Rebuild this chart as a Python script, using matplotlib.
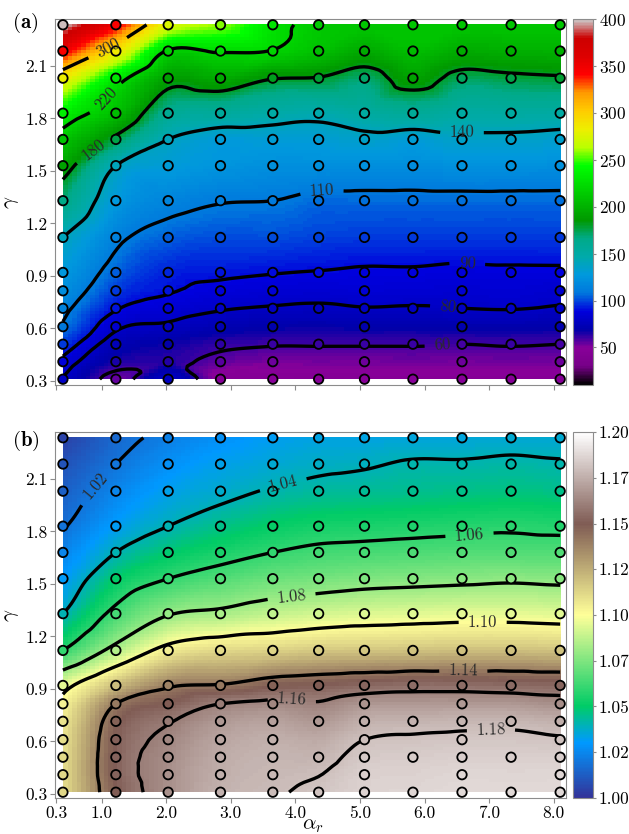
import numpy as np
import matplotlib
matplotlib.use("Agg")
import matplotlib.pyplot as plt
import matplotlib.tri as mtri

plt.rcParams["font.family"] = "serif"
plt.rcParams["font.serif"] = ["cmr10"]
plt.rcParams["mathtext.fontset"] = "cm"
plt.rcParams["axes.formatter.use_mathtext"] = True

nan = np.nan

# sample positions (circles)
alpha_r = [0.4, 1.22, 2.03, 2.84, 3.65, 4.36, 5.07, 5.82, 6.58, 7.34, 8.1]
gamma = [0.31, 0.41, 0.51, 0.61, 0.715, 0.815, 0.92, 1.12, 1.33, 1.53, 1.68, 1.83, 2.03, 2.185, 2.335]

# panel (a) values, rows bottom -> top, one column per alpha_r
values_a = [
    [79, 55, 78, 47, 47, 46, 47, 47, 47, 47, 47],
    [87, 66, 64, 56, 53, nan, 53, nan, 53, nan, 53],
    [97, 74, 68, 63, 61, 61, 61, 61, 60, 61, 60],
    [108, 82, 78, 73, 70, nan, 70, nan, 71, nan, 70],
    [114, 91, 85, 81, 79, 78, 79.5, 79, 80, 80.5, 79],
    [121, 98, 91, 87, 85, nan, 85, nan, 84, nan, 83],
    [127, 104, 94, 92, 90.5, 89.5, 88.5, 88.5, 87.5, 88, 88],
    [140, 114, 104, 101, 101, 99, 98, 98, 98, 98, 98],
    [166, 127, 116, 111, 110, 106, 106, 106, 106, 106, 106],
    [191, 140, 130, 125, 122, 122, 122, 121, 123, 123, 122],
    [210, 175, 140, 130, 131, 131, 135, 131, 136, 136, 134],
    [235, 205, 160, 155, 149, 146, 152, 157, 151, 152, 151],
    [282, 230, 190, 195, 181, 179, 170, 190, 173, 176, 178],
    [345, 285, 218, 222, 219, 208, 195, 206, 196, 198, 199],
    [398, 345, 275, 258, 228, 214, 212, 212, 212, 212, 212],
]

# panel (b) values
values_b = [
    [1.112, 1.150, 1.166, 1.176, 1.179, 1.182, 1.186, 1.187, 1.188, 1.188, 1.188],
    [1.112, 1.152, 1.166, 1.175, 1.178, nan, 1.185, nan, 1.187, nan, 1.187],
    [1.111, 1.152, 1.165, 1.174, 1.177, 1.177, 1.183, 1.184, 1.185, 1.185, 1.185],
    [1.110, 1.151, 1.163, 1.172, 1.175, nan, 1.180, nan, 1.182, nan, 1.181],
    [1.108, 1.148, 1.159, 1.168, 1.171, 1.168, 1.175, 1.176, 1.177, 1.177, 1.175],
    [1.104, 1.140, 1.150, 1.160, 1.163, nan, 1.167, nan, 1.168, nan, 1.165],
    [1.095, 1.120, 1.138, 1.141, 1.148, 1.150, 1.153, 1.155, 1.155, 1.154, 1.153],
    [1.060, 1.085, 1.105, 1.111, 1.113, 1.116, 1.117, 1.118, 1.119, 1.119, 1.118],
    [1.040, 1.064, 1.079, 1.083, 1.088, 1.091, 1.093, 1.094, 1.095, 1.095, 1.094],
    [1.031, 1.050, 1.060, 1.066, 1.071, 1.073, 1.075, 1.076, 1.077, 1.078, 1.077],
    [1.025, 1.040, 1.049, 1.055, 1.060, 1.063, 1.064, 1.065, 1.066, 1.066, 1.066],
    [1.019, 1.032, 1.040, 1.046, 1.051, 1.054, 1.055, 1.056, 1.057, 1.058, 1.057],
    [1.014, 1.025, 1.033, 1.037, 1.041, 1.043, 1.044, 1.045, 1.046, 1.047, 1.046],
    [1.010, 1.020, 1.028, 1.033, 1.036, 1.038, 1.039, 1.041, 1.041, 1.042, 1.041],
    [1.005, 1.016, 1.023, 1.028, 1.032, 1.034, 1.034, 1.035, 1.035, 1.036, 1.036],
]

levels_a = [60, 80, 90, 110, 140, 180, 220, 300]
levels_b = [1.02, 1.04, 1.06, 1.08, 1.10, 1.14, 1.16, 1.18]

label_pos_a = [(6.28, 0.49), (6.36, 0.72), (6.66, 0.95), (4.41, 1.38),
               (6.58, 1.72), (0.84, 1.64), (1.05, 1.92), (1.1, 2.2)]
label_pos_b = [(0.94, 2.05), (3.81, 2.07), (6.7, 1.76), (3.94, 1.43),
               (6.9, 1.28), (6.6, 0.99), (3.94, 0.81), (7.04, 0.59)]

cbar_ticks_a = [50, 100, 150, 200, 250, 300, 350, 400]
cbar_ticks_b = [1.0, 1.025, 1.05, 1.075, 1.1, 1.125, 1.15, 1.175, 1.2]
cbar_labels_b = ["1.00", "1.02", "1.05", "1.07", "1.10", "1.12", "1.15", "1.17", "1.20"]

x_ticks = [0.3, 1, 2, 3, 4, 5, 6, 7, 8]
x_tick_labels = ["0.3", "1.0", "2.0", "3.0", "4.0", "5.0", "6.0", "7.0", "8.0"]
y_ticks = [0.3, 0.6, 0.9, 1.2, 1.5, 1.8, 2.1]
y_tick_labels = ["0.3", "0.6", "0.9", "1.2", "1.5", "1.8", "2.1"]

SPINE = "#8c8c8c"


def draw_panel(ax, cax, values, cmap, vmin, vmax, levels, fmt, label_pos):
    xx, yy = np.meshgrid(alpha_r, gamma)
    z = np.array(values, dtype=float)
    ok = ~np.isnan(z)
    xs, ys, zs = xx[ok], yy[ok], z[ok]

    tri = mtri.Triangulation(xs, ys)
    interp = mtri.CubicTriInterpolator(tri, zs, kind="geom")
    gx = np.linspace(xs.min() + 1e-6, xs.max() - 1e-6, 110)
    gy = np.linspace(ys.min() + 1e-6, ys.max() - 1e-6, 110)
    GX, GY = np.meshgrid(gx, gy)
    GZ = interp(GX, GY)

    im = ax.imshow(GZ, origin="lower", extent=(xs.min(), xs.max(), ys.min(), ys.max()),
                   aspect="auto", cmap=cmap, vmin=vmin, vmax=vmax, interpolation="nearest")
    cs = ax.contour(GX, GY, GZ, levels=levels, colors="k", linewidths=2.4)
    ax.clabel(cs, fmt=fmt, fontsize=12, manual=label_pos, inline=True,
              inline_spacing=10, colors="#2a2a2a")
    ax.scatter(xs, ys, c=zs, cmap=cmap, vmin=vmin, vmax=vmax, s=46,
               edgecolors="k", linewidths=1.3, zorder=3)

    ax.set_xlim(0.277, 8.19)
    ax.set_ylim(0.277, 2.368)
    ax.set_xticks(x_ticks)
    ax.set_xticklabels(x_tick_labels)
    ax.set_yticks(y_ticks)
    ax.set_yticklabels(y_tick_labels)
    ax.tick_params(direction="out", length=3.5, width=0.8, color=SPINE,
                   labelsize=12.5, pad=2)
    for sp in ax.spines.values():
        sp.set_color(SPINE)
    ax.set_ylabel(r"$\gamma$", fontsize=15)
    ax.yaxis.set_label_coords(-0.066, 0.5)

    cb = plt.colorbar(im, cax=cax)
    cb.outline.set_edgecolor(SPINE)
    cax.tick_params(direction="out", length=2.5, width=0.8, color=SPINE,
                    labelsize=12.5, pad=1.5)
    return cb


fig = plt.figure(figsize=(6.29, 8.34), dpi=100)
ax_a = fig.add_axes([0.0874, 0.5384, 0.8124, 0.4388])
cax_a = fig.add_axes([0.911, 0.5384, 0.0318, 0.4388])
ax_b = fig.add_axes([0.0874, 0.0432, 0.8124, 0.4388])
cax_b = fig.add_axes([0.911, 0.0432, 0.0318, 0.4388])

cb_a = draw_panel(ax_a, cax_a, values_a, "nipy_spectral", 10, 400, levels_a, "%d", label_pos_a)
cb_a.set_ticks(cbar_ticks_a)
ax_a.tick_params(labelbottom=False)

cb_b = draw_panel(ax_b, cax_b, values_b, "terrain", 1.0, 1.2, levels_b, "%.2f", label_pos_b)
cb_b.set_ticks(cbar_ticks_b)
cb_b.set_ticklabels(cbar_labels_b)
ax_b.set_xlabel(r"$\alpha_r$", fontsize=15)
ax_b.xaxis.set_label_coords(0.505, -0.053)

fig.text(0.019, 0.973, r"$\mathbf{(a)}$", fontsize=15, va="center")
fig.text(0.019, 0.471, r"$\mathbf{(b)}$", fontsize=15, va="center")

fig.savefig("out.png", dpi=100)
